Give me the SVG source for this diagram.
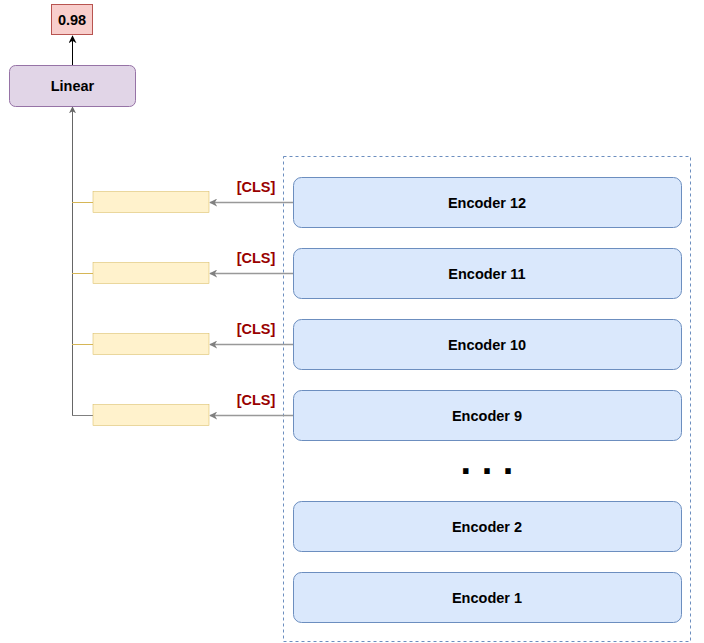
<svg xmlns="http://www.w3.org/2000/svg" width="704" height="643" viewBox="0 0 704 643">
<style>
text{font-family:"Liberation Sans",Arial,sans-serif;font-weight:bold;text-anchor:middle;dominant-baseline:central}
.enc rect{fill:#dae8fc;stroke:#6c8ebf;stroke-width:1}
.enc text{font-size:14.5px;fill:#000}
.emb rect{fill:#fff2cc;stroke:#d6b656;stroke-width:0.5}
.cls{font-size:14.5px;fill:#990000}
.gray{stroke:#999999;stroke-width:1.5;fill:none}
.dark{stroke:#666666;stroke-width:1;fill:none}
</style>
<defs>
<marker id="ah" viewBox="0 0 10 10" refX="9" refY="5" markerWidth="8" markerHeight="8" orient="auto" markerUnits="userSpaceOnUse">
<path d="M0,0 L10,5 L0,10 L3,5 Z" fill="#808080"/>
</marker>
<marker id="ahd" viewBox="0 0 10 10" refX="9" refY="5" markerWidth="7" markerHeight="7" orient="auto" markerUnits="userSpaceOnUse">
<path d="M0,0 L10,5 L0,10 L3,5 Z" fill="#666666"/>
</marker>
<marker id="ahb" viewBox="0 0 10 10" refX="9" refY="5" markerWidth="8" markerHeight="8" orient="auto" markerUnits="userSpaceOnUse">
<path d="M0,0 L10,5 L0,10 L3,5 Z" fill="#000"/>
</marker>
</defs>
<rect id="container" x="283.5" y="156.5" width="407" height="485" fill="none" stroke="#6c8ebf" stroke-dasharray="3,3"/>
<g id="connectors">
<line x1="72.5" y1="65" x2="72.5" y2="36" stroke="#000" stroke-width="1" marker-end="url(#ahb)"/>
<line x1="72.5" y1="415" x2="72.5" y2="107" class="dark" marker-end="url(#ahd)"/>
<line x1="72" y1="202.5" x2="93" y2="202.5" stroke="#d6b656" stroke-width="1"/>
<line x1="72" y1="273.5" x2="93" y2="273.5" stroke="#d6b656" stroke-width="1"/>
<line x1="72" y1="344.5" x2="93" y2="344.5" stroke="#d6b656" stroke-width="1"/>
<line x1="72" y1="415.5" x2="93" y2="415.5" stroke="#808080" stroke-width="1"/>
<line x1="293" y1="202.5" x2="210" y2="202.5" class="gray" marker-end="url(#ah)"/>
<line x1="293" y1="273.5" x2="210" y2="273.5" class="gray" marker-end="url(#ah)"/>
<line x1="293" y1="344.5" x2="210" y2="344.5" class="gray" marker-end="url(#ah)"/>
<line x1="293" y1="415.5" x2="210" y2="415.5" class="gray" marker-end="url(#ah)"/>
<text class="cls" x="256" y="187">[CLS]</text>
<text class="cls" x="256" y="258">[CLS]</text>
<text class="cls" x="256" y="329">[CLS]</text>
<text class="cls" x="256" y="400">[CLS]</text>
</g>
<g id="output"><rect x="51.5" y="4.5" width="41" height="30" fill="#f8cecc" stroke="#b85450"/><text x="72" y="19.5" font-size="14.5">0.98</text></g>
<g id="linear"><rect x="9.5" y="65.5" width="126" height="41" rx="6" fill="#e1d5e7" stroke="#9673a6"/><text x="72.5" y="86" font-size="14.5">Linear</text></g>
<g id="emb12" class="emb"><rect x="93" y="191.5" width="116" height="21"/></g>
<g id="emb11" class="emb"><rect x="93" y="262.5" width="116" height="21"/></g>
<g id="emb10" class="emb"><rect x="93" y="333.5" width="116" height="21"/></g>
<g id="emb9" class="emb"><rect x="93" y="404.5" width="116" height="21"/></g>
<g id="enc12" class="enc"><rect x="293.5" y="177.5" width="388" height="50" rx="8"/><text x="487" y="203">Encoder 12</text></g>
<g id="enc11" class="enc"><rect x="293.5" y="248.5" width="388" height="50" rx="8"/><text x="487" y="274">Encoder 11</text></g>
<g id="enc10" class="enc"><rect x="293.5" y="319.5" width="388" height="50" rx="8"/><text x="487" y="345">Encoder 10</text></g>
<g id="enc9" class="enc"><rect x="293.5" y="390.5" width="388" height="50" rx="8"/><text x="487" y="416">Encoder 9</text></g>
<g id="dots"><text x="487" y="474" font-size="38" style="dominant-baseline:auto">. . .</text></g>
<g id="enc2" class="enc"><rect x="293.5" y="501.5" width="388" height="50" rx="8"/><text x="487" y="527">Encoder 2</text></g>
<g id="enc1" class="enc"><rect x="293.5" y="572.5" width="388" height="50" rx="8"/><text x="487" y="598">Encoder 1</text></g>
</svg>
